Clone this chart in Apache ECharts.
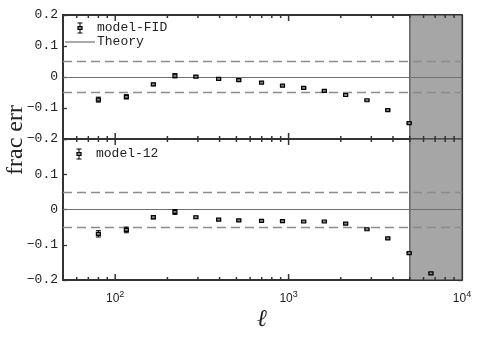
<!DOCTYPE html>
<html>
<head>
<meta charset="utf-8">
<script src="https://cdn.jsdelivr.net/npm/echarts@6/dist/echarts.min.js"></script>
<style>
  html, body { margin: 0; padding: 0; background: #fff; }
  #chart { width: 484px; height: 342px; }
</style>
</head>
<body>
<div id="chart"></div>
<script>
// multipoles (ell) and fractional errors
const ellFid = [80, 116, 166, 221, 292, 395, 516, 698, 922, 1222, 1607, 2133, 2831, 3733, 4955];
const errFid = [-0.073, -0.064, -0.024, 0.004, 0.001, -0.006, -0.010, -0.018, -0.028, -0.035, -0.045, -0.058, -0.075, -0.107, -0.149];
const sigFid = [0.008, 0.007, 0.004, 0.007, 0.003, 0.002, 0.003, 0.002, 0.002, 0.002, 0.002, 0.002, 0.002, 0.002, 0.002];

const ell12 = [80, 116, 166, 221, 292, 395, 516, 698, 922, 1222, 1607, 2133, 2831, 3733, 4955, 6620];
const err12 = [-0.069, -0.058, -0.022, -0.007, -0.022, -0.029, -0.031, -0.032, -0.033, -0.034, -0.034, -0.040, -0.056, -0.082, -0.124, -0.181];
const sig12 = [0.009, 0.008, 0.005, 0.007, 0.003, 0.002, 0.002, 0.002, 0.002, 0.002, 0.002, 0.002, 0.002, 0.002, 0.002, 0.002];

const yTicks = [0.2, 0.1, 0, -0.1, -0.2];
const xTicks = [60, 70, 80, 90, 100, 200, 300, 400, 500, 600, 700, 800, 900,
                1000, 2000, 3000, 4000, 5000, 6000, 7000, 8000, 9000];
const excluded = [5000, 10000];
const band = 0.05;

const MONO = '"Liberation Mono", "DejaVu Sans Mono", monospace';

function errBars(params, api) {
  const x = api.value(0), y = api.value(1), s = api.value(2);
  const c = api.coord([x, y]);
  const lo = api.coord([x, y - s]);
  const hi = api.coord([x, y + s]);
  const st = { stroke: '#000', lineWidth: 1 };
  return {
    type: 'group',
    children: [
      { type: 'line', shape: { x1: c[0], y1: lo[1], x2: c[0], y2: hi[1] }, style: st },
      { type: 'line', shape: { x1: c[0] - 2.5, y1: lo[1], x2: c[0] + 2.5, y2: lo[1] }, style: st },
      { type: 'line', shape: { x1: c[0] - 2.5, y1: hi[1], x2: c[0] + 2.5, y2: hi[1] }, style: st },
      { type: 'rect', shape: { x: c[0] - 2, y: c[1] - 1.5, width: 4, height: 3 },
        style: { fill: '#888', stroke: '#000', lineWidth: 1.2 } }
    ]
  };
}

function yLabel(v, hideTop) {
  if (hideTop && v > 0.15) return '';
  if (v === 0) return '0';
  return (v < 0 ? '\u2212' : '') + Math.abs(v).toFixed(1);
}

function xLabel(v) {
  const e = Math.log10(v);
  if (Math.abs(e - Math.round(e)) > 1e-6) return '';
  return '{b|10}{s|' + Math.round(e) + '}';
}

const refLines = {
  silent: true,
  symbol: 'none',
  label: { show: false },
  data: [
    { yAxis: band, lineStyle: { color: '#8c8c8c', type: [9, 5], width: 1.3 } },
    { yAxis: -band, lineStyle: { color: '#8c8c8c', type: [9, 5], width: 1.3 } },
    { yAxis: 0, lineStyle: { color: '#707070', type: 'solid', width: 1 } }
  ]
};
const shade = {
  silent: true,
  itemStyle: { color: '#a6a6a6', borderColor: '#333', borderWidth: 1 },
  data: [[{ xAxis: excluded[0] }, { xAxis: excluded[1] }]]
};

function xAx(gridIndex, opts) {
  return Object.assign({
    type: 'log', logBase: 10, gridIndex: gridIndex, min: 50, max: 10000,
    axisLine: { show: true, onZero: false, lineStyle: { color: '#333', width: 2 } },
    axisTick: { show: false },
    axisLabel: { show: false },
    splitLine: { show: false }
  }, opts || {});
}
function yAx(gridIndex, pos, hideTop) {
  return {
    type: 'value', gridIndex: gridIndex, position: pos, min: -0.2, max: 0.2, interval: 0.1,
    axisLine: { show: true, onZero: false, lineStyle: { color: '#333', width: pos === 'left' ? 2 : 1.2 } },
    axisTick: { show: true, inside: true, length: 4, lineStyle: { color: '#333', width: 1.3 } },
    axisLabel: pos === 'left'
      ? { show: true, margin: 5, color: '#222', fontFamily: MONO, fontSize: 13,
          formatter: v => yLabel(v, hideTop) }
      : { show: false },
    splitLine: { show: false }
  };
}

const legendAndTitles = [
  // legend, top panel
  { type: 'line', shape: { x1: 80, y1: 23, x2: 80, y2: 33 }, style: { stroke: '#000', lineWidth: 1 } },
  { type: 'line', shape: { x1: 77.5, y1: 23, x2: 82.5, y2: 23 }, style: { stroke: '#000', lineWidth: 1 } },
  { type: 'line', shape: { x1: 77.5, y1: 33, x2: 82.5, y2: 33 }, style: { stroke: '#000', lineWidth: 1 } },
  { type: 'rect', shape: { x: 78, y: 26.5, width: 4, height: 3 }, style: { fill: '#888', stroke: '#000', lineWidth: 1.2 } },
  { type: 'text', x: 97, y: 28, style: { text: 'model-FID', font: '13px ' + MONO, fill: '#222', verticalAlign: 'middle' } },
  { type: 'line', shape: { x1: 65, y1: 42, x2: 95, y2: 42 }, style: { stroke: '#555', lineWidth: 1 } },
  { type: 'text', x: 97, y: 42, style: { text: 'Theory', font: '13px ' + MONO, fill: '#222', verticalAlign: 'middle' } },
  // legend, bottom panel
  { type: 'line', shape: { x1: 79, y1: 149, x2: 79, y2: 159 }, style: { stroke: '#000', lineWidth: 1 } },
  { type: 'line', shape: { x1: 76.5, y1: 149, x2: 81.5, y2: 149 }, style: { stroke: '#000', lineWidth: 1 } },
  { type: 'line', shape: { x1: 76.5, y1: 159, x2: 81.5, y2: 159 }, style: { stroke: '#000', lineWidth: 1 } },
  { type: 'rect', shape: { x: 77, y: 152.5, width: 4, height: 3 }, style: { fill: '#888', stroke: '#000', lineWidth: 1.2 } },
  { type: 'text', x: 96, y: 154, style: { text: 'model-12', font: '13px ' + MONO, fill: '#222', verticalAlign: 'middle' } },
  // axis titles
  { type: 'text', x: 16, y: 140, rotation: Math.PI / 2,
    style: { text: 'frac err', font: '24px "Liberation Serif", "DejaVu Serif", serif', fill: '#222', align: 'center', verticalAlign: 'middle' } },
  { type: 'text', x: 262, y: 320,
    style: { text: '\u2113', font: 'italic 24px "DejaVu Serif", "Liberation Serif", serif', fill: '#222', align: 'center', verticalAlign: 'middle' } }
];

const chart = echarts.init(document.getElementById('chart'));
chart.setOption({
  animation: false,
  backgroundColor: '#fff',
  grid: [
    { left: 63, right: 22, top: 15, height: 124 },
    { left: 63, right: 22, top: 139, height: 141 }
  ],
  xAxis: [
    xAx(0),
    xAx(0, { position: 'top' }),
    xAx(1, {
      axisLabel: {
        show: true, margin: 10, color: '#222', formatter: xLabel,
        rich: {
          b: { fontFamily: '"Liberation Sans", Arial, sans-serif', fontSize: 12 },
          s: { fontFamily: '"Liberation Sans", Arial, sans-serif', fontSize: 9, verticalAlign: 'top', padding: [0, 0, 9, 0] }
        }
      }
    })
  ],
  yAxis: [yAx(0, 'left', false), yAx(0, 'right'), yAx(1, 'left', true), yAx(1, 'right')],
  series: [
    { type: 'line', xAxisIndex: 0, yAxisIndex: 0, data: [], z: 1, markArea: shade },
    { type: 'line', xAxisIndex: 2, yAxisIndex: 2, data: [], z: 1, markArea: shade },
    { type: 'line', xAxisIndex: 0, yAxisIndex: 0, data: [], z: 3, markLine: refLines },
    { type: 'line', xAxisIndex: 2, yAxisIndex: 2, data: [], z: 3, markLine: refLines },
    { type: 'custom', name: 'model-FID', xAxisIndex: 0, yAxisIndex: 0, z: 10, renderItem: errBars,
      data: ellFid.map((l, i) => [l, errFid[i], sigFid[i]]) },
    { type: 'custom', name: 'model-12', xAxisIndex: 2, yAxisIndex: 2, z: 10, renderItem: errBars,
      data: ell12.map((l, i) => [l, err12[i], sig12[i]]) }
  ],
  graphic: legendAndTitles
});

// log x ticks on top and bottom edge of each panel, pointing inward,
// placed through the axes' own scales
const tickEls = [];
[{ xAxisIndex: 0, yAxisIndex: 0 }, { xAxisIndex: 2, yAxisIndex: 2 }].forEach(finder => {
  xTicks.forEach(v => {
    const e = Math.log10(v);
    const len = Math.abs(e - Math.round(e)) < 1e-6 ? 6 : 3;
    const t = chart.convertToPixel(finder, [v, yTicks[0]]);
    const b = chart.convertToPixel(finder, [v, yTicks[yTicks.length - 1]]);
    tickEls.push({ type: 'line', z: 100, shape: { x1: t[0], y1: t[1], x2: t[0], y2: t[1] + len },
                   style: { stroke: '#333', lineWidth: 1.5 } });
    tickEls.push({ type: 'line', z: 100, shape: { x1: b[0], y1: b[1], x2: b[0], y2: b[1] - len },
                   style: { stroke: '#333', lineWidth: 1.5 } });
  });
});
chart.setOption({ graphic: legendAndTitles.concat(tickEls) });
</script>
</body>
</html>
